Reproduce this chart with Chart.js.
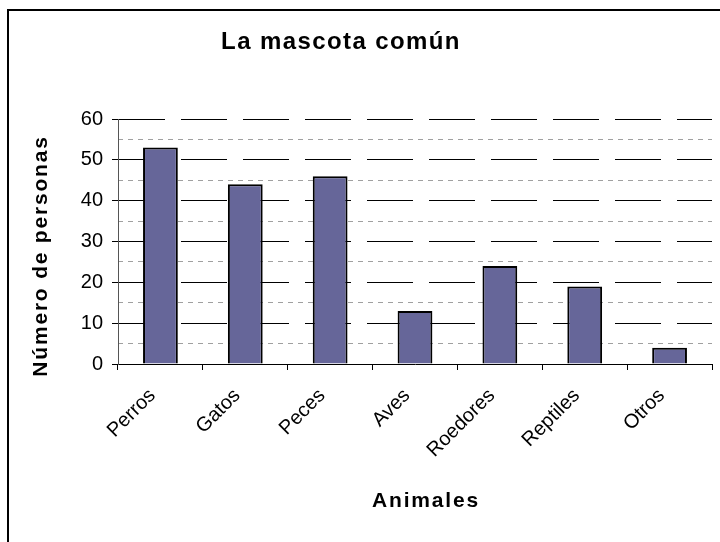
<!DOCTYPE html>
<html>
<head>
<meta charset="utf-8">
<script src="https://cdn.jsdelivr.net/npm/chart.js@4"></script>
<style>
  body { margin: 0; background: #fff; }
  #wrap { position: relative; width: 720px; height: 542px; overflow: hidden; }
  #frame { position: absolute; left: 7px; top: 9px; width: 800px; height: 700px; border-left: 2px solid #000; border-top: 2px solid #000; }
  #chart { position: absolute; left: 0; top: 0; }
</style>
</head>
<body>
<div id="wrap">
  <div id="frame"></div>
  <canvas id="chart" width="720" height="542"></canvas>
</div>
<script>
const animales = ["Perros", "Gatos", "Peces", "Aves", "Roedores", "Reptiles", "Otros"];
const personas = [53, 44, 46, 13, 24, 19, 4];
const yMax = 60;
const majorStep = 10;
const minorStep = 5;

const tituloPrincipal = "La mascota común";
const tituloY = "Número de personas";
const tituloX = "Animales";

const FONT = "Arial, 'Liberation Sans', sans-serif";

// titles drawn by hand so they can sit where Excel put them
const titulos = {
  id: "titulos",
  afterDraw(chart) {
    const ctx = chart.ctx;
    ctx.save();
    ctx.fillStyle = "#000";
    ctx.textAlign = "center";
    ctx.textBaseline = "middle";
    const spacing = (px) => { if ("letterSpacing" in ctx) ctx.letterSpacing = px; };
    spacing("1.4px");
    ctx.font = "bold 24px " + FONT;
    ctx.fillText(tituloPrincipal, 341, 42);
    spacing("1.8px");
    ctx.font = "bold 21px " + FONT;
    ctx.fillText(tituloX, 426, 501);
    ctx.translate(41, 256);
    ctx.rotate(-Math.PI / 2);
    ctx.fillText(tituloY, 0, 0);
    ctx.restore();
  }
};

new Chart(document.getElementById("chart"), {
  type: "bar",
  data: {
    labels: animales,
    datasets: [{
      data: personas,
      backgroundColor: "#666699",
      borderColor: "#000",
      borderWidth: 2,
      categoryPercentage: 1,
      barPercentage: 0.41
    }]
  },
  options: {
    responsive: false,
    animation: false,
    layout: { padding: { top: 119, right: 8, bottom: 0, left: 0 } },
    plugins: { legend: { display: false }, tooltip: { enabled: false } },
    scales: {
      x: {
        grid: { drawOnChartArea: false, offset: true, tickLength: 6, color: "#000" },
        border: { color: "#000", width: 1 },
        ticks: {
          color: "#000",
          font: { family: FONT, size: 20 },
          minRotation: 45,
          maxRotation: 45,
          padding: 14,
          labelOffset: -8
        },
        afterFit(s) { s.height = 178; }
      },
      y: {
        min: 0,
        max: yMax,
        ticks: {
          stepSize: majorStep,
          color: "#000",
          font: { family: FONT, size: 20 },
          padding: 9
        },
        grid: { color: "#000", lineWidth: 1, tickLength: 6 },
        border: { color: "#555", width: 1, dash: [46, 16] },
        afterFit(s) { s.width = 118; }
      },
      yMenor: {
        position: "left",
        min: 0,
        max: yMax,
        ticks: { stepSize: minorStep, display: false },
        grid: {
          color: (c) => (c.tick && c.tick.value % majorStep === 0) ? "rgba(0,0,0,0)" : "#a0a0a0",
          tickColor: (c) => (c.tick && c.tick.value % majorStep === 0) ? "rgba(0,0,0,0)" : "#555",
          lineWidth: 1,
          tickLength: 6
        },
        border: { display: false, dash: [5, 5] },
        afterFit(s) { s.width = 0; }
      }
    }
  },
  plugins: [titulos]
});
</script>
</body>
</html>
